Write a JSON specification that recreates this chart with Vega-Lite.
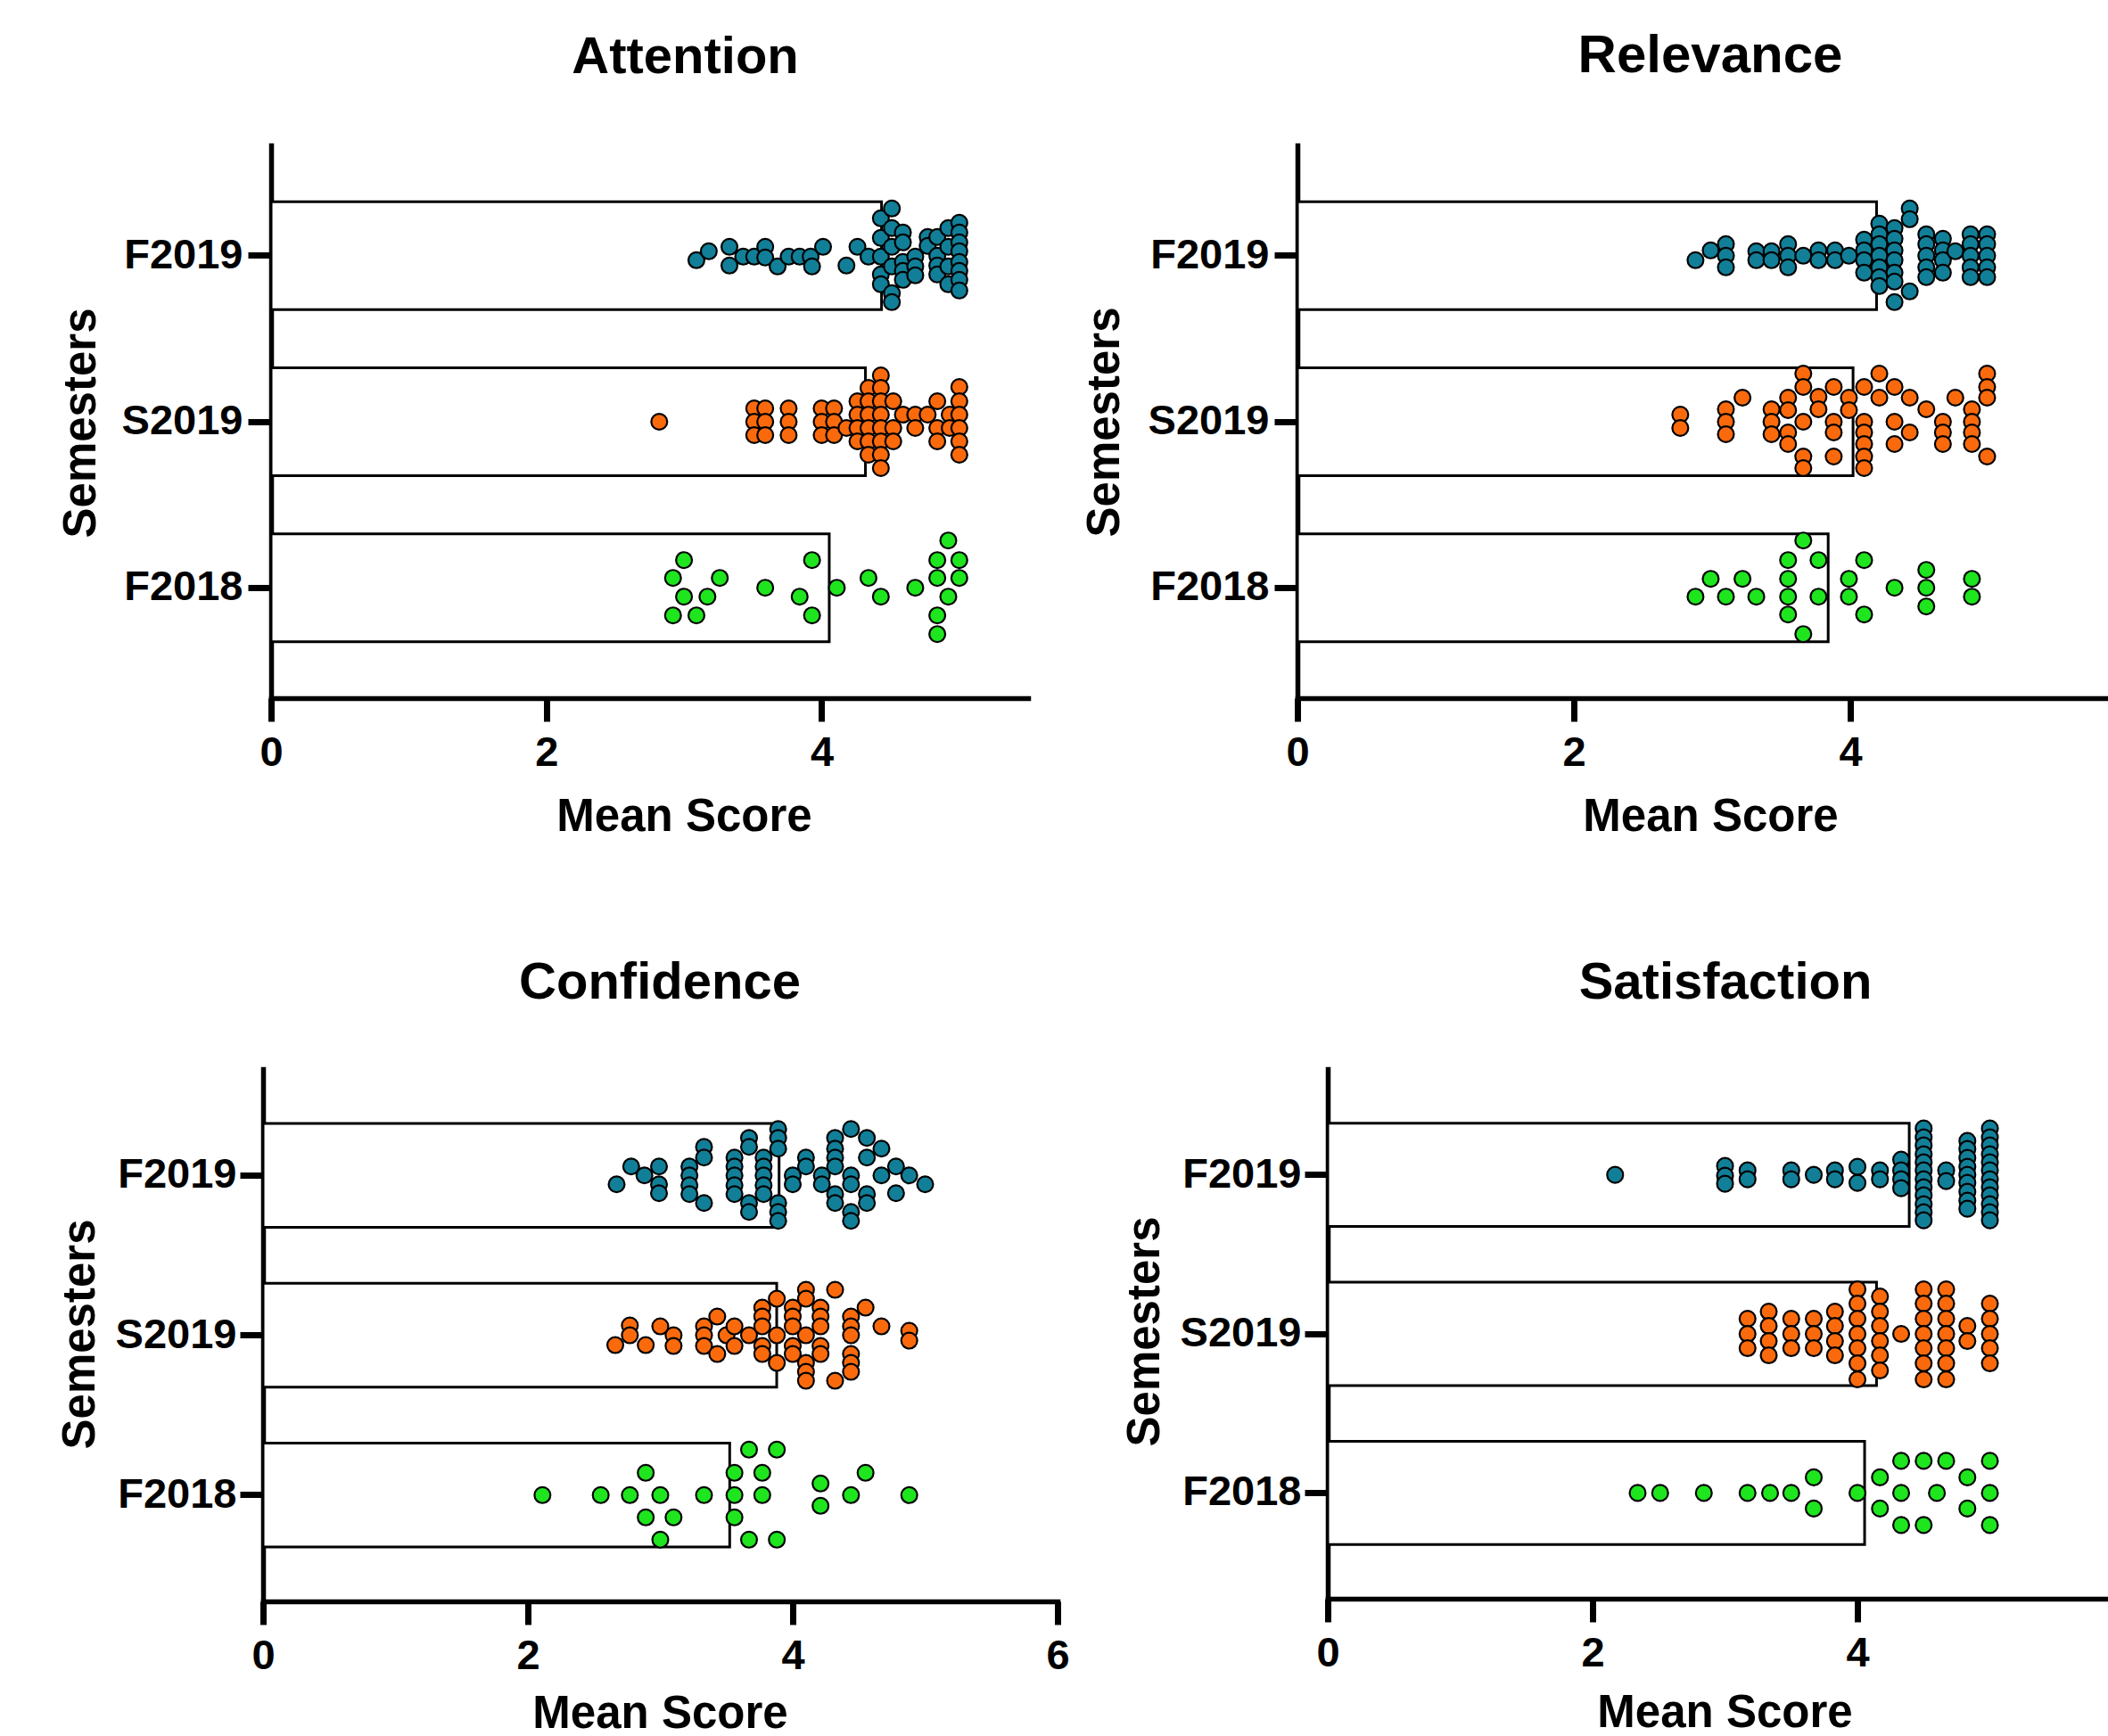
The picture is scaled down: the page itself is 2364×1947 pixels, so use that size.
{
"$schema": "https://vega.github.io/schema/vega-lite/v6.json",
"padding": {"left": 64, "top": 33, "right": 0, "bottom": 0},
"spacing": 133,
"resolve": {"scale": {"yOffset": "independent", "x": "independent", "y": "independent"}},
"datasets": {
"bars": [
{"panel":"Attention","semester":"F2019","mean":4.435},{"panel":"Attention","semester":"S2019","mean":4.318},{"panel":"Attention","semester":"F2018","mean":4.055},
{"panel":"Relevance","semester":"F2019","mean":4.19},{"panel":"Relevance","semester":"S2019","mean":4.02},{"panel":"Relevance","semester":"F2018","mean":3.84},
{"panel":"Confidence","semester":"F2019","mean":3.897},{"panel":"Confidence","semester":"S2019","mean":3.879},{"panel":"Confidence","semester":"F2018","mean":3.524},
{"panel":"Satisfaction","semester":"F2019","mean":4.391},{"panel":"Satisfaction","semester":"S2019","mean":4.144},{"panel":"Satisfaction","semester":"F2018","mean":4.054}
],
"attention": [
{"semester":"F2019","score":3.09,"lane":0.5},{"semester":"F2019","score":3.18,"lane":-0.5},{"semester":"F2019","score":3.33,"lane":-1.0},{"semester":"F2019","score":3.33,"lane":1.1},{"semester":"F2019","score":3.43,"lane":0.1},{"semester":"F2019","score":3.51,"lane":0.1},{"semester":"F2019","score":3.59,"lane":-1.0},{"semester":"F2019","score":3.59,"lane":0.2},{"semester":"F2019","score":3.68,"lane":1.2},{"semester":"F2019","score":3.76,"lane":0.1},{"semester":"F2019","score":3.84,"lane":0.1},{"semester":"F2019","score":3.92,"lane":0.1},{"semester":"F2019","score":3.93,"lane":1.2},{"semester":"F2019","score":4.01,"lane":-1.0},{"semester":"F2019","score":4.18,"lane":1.1},{"semester":"F2019","score":4.26,"lane":-1.0},{"semester":"F2019","score":4.34,"lane":0.1},
{"semester":"F2019","score":4.43,"lane":-4.2},{"semester":"F2019","score":4.43,"lane":-2.0},{"semester":"F2019","score":4.43,"lane":0.1},{"semester":"F2019","score":4.43,"lane":2.1},{"semester":"F2019","score":4.43,"lane":3.2},
{"semester":"F2019","score":4.51,"lane":-5.3},{"semester":"F2019","score":4.51,"lane":-3.1},{"semester":"F2019","score":4.51,"lane":-1.0},{"semester":"F2019","score":4.51,"lane":1.2},{"semester":"F2019","score":4.51,"lane":4.2},{"semester":"F2019","score":4.51,"lane":5.2},
{"semester":"F2019","score":4.59,"lane":-2.6},{"semester":"F2019","score":4.59,"lane":-1.5},{"semester":"F2019","score":4.59,"lane":0.7},{"semester":"F2019","score":4.59,"lane":1.7},{"semester":"F2019","score":4.59,"lane":2.7},
{"semester":"F2019","score":4.68,"lane":0.1},{"semester":"F2019","score":4.68,"lane":1.2},{"semester":"F2019","score":4.68,"lane":2.2},
{"semester":"F2019","score":4.77,"lane":-2.1},{"semester":"F2019","score":4.77,"lane":-1.1},
{"semester":"F2019","score":4.84,"lane":-2.1},{"semester":"F2019","score":4.84,"lane":0.0},{"semester":"F2019","score":4.84,"lane":1.1},{"semester":"F2019","score":4.84,"lane":2.1},
{"semester":"F2019","score":4.92,"lane":-3.1},{"semester":"F2019","score":4.92,"lane":-1.0},{"semester":"F2019","score":4.92,"lane":1.2},{"semester":"F2019","score":4.92,"lane":3.2},
{"semester":"F2019","score":5.0,"lane":-3.7},{"semester":"F2019","score":5.0,"lane":-2.6},{"semester":"F2019","score":5.0,"lane":-1.5},{"semester":"F2019","score":5.0,"lane":-0.5},{"semester":"F2019","score":5.0,"lane":0.7},{"semester":"F2019","score":5.0,"lane":1.7},{"semester":"F2019","score":5.0,"lane":2.7},{"semester":"F2019","score":5.0,"lane":3.9},
{"semester":"S2019","score":2.82,"lane":0},
{"semester":"S2019","score":3.51,"lane":-1.5},{"semester":"S2019","score":3.51,"lane":0},{"semester":"S2019","score":3.51,"lane":1.5},
{"semester":"S2019","score":3.59,"lane":-1.5},{"semester":"S2019","score":3.59,"lane":0},{"semester":"S2019","score":3.59,"lane":1.5},
{"semester":"S2019","score":3.76,"lane":-1.5},{"semester":"S2019","score":3.76,"lane":0},{"semester":"S2019","score":3.76,"lane":1.5},
{"semester":"S2019","score":4.0,"lane":-1.5},{"semester":"S2019","score":4.0,"lane":0},{"semester":"S2019","score":4.0,"lane":1.5},
{"semester":"S2019","score":4.09,"lane":-1.5},{"semester":"S2019","score":4.09,"lane":0},{"semester":"S2019","score":4.09,"lane":1.5},
{"semester":"S2019","score":4.18,"lane":0.7},
{"semester":"S2019","score":4.26,"lane":-2.3},{"semester":"S2019","score":4.26,"lane":-0.8},{"semester":"S2019","score":4.26,"lane":0.7},{"semester":"S2019","score":4.26,"lane":2.2},
{"semester":"S2019","score":4.34,"lane":-3.8},{"semester":"S2019","score":4.34,"lane":-2.3},{"semester":"S2019","score":4.34,"lane":-0.8},{"semester":"S2019","score":4.34,"lane":0.7},{"semester":"S2019","score":4.34,"lane":2.2},{"semester":"S2019","score":4.34,"lane":3.7},
{"semester":"S2019","score":4.43,"lane":-5.2},{"semester":"S2019","score":4.43,"lane":-3.8},{"semester":"S2019","score":4.43,"lane":-2.3},{"semester":"S2019","score":4.43,"lane":-0.8},{"semester":"S2019","score":4.43,"lane":0.7},{"semester":"S2019","score":4.43,"lane":2.2},{"semester":"S2019","score":4.43,"lane":3.7},{"semester":"S2019","score":4.43,"lane":5.2},
{"semester":"S2019","score":4.52,"lane":-2.3},{"semester":"S2019","score":4.52,"lane":0.7},{"semester":"S2019","score":4.52,"lane":2.2},
{"semester":"S2019","score":4.59,"lane":-0.8},
{"semester":"S2019","score":4.68,"lane":-0.8},{"semester":"S2019","score":4.68,"lane":0.7},
{"semester":"S2019","score":4.77,"lane":-0.8},
{"semester":"S2019","score":4.84,"lane":-2.3},{"semester":"S2019","score":4.84,"lane":0.7},{"semester":"S2019","score":4.84,"lane":2.2},
{"semester":"S2019","score":4.93,"lane":-0.8},{"semester":"S2019","score":4.93,"lane":0.7},
{"semester":"S2019","score":5.0,"lane":-3.9},{"semester":"S2019","score":5.0,"lane":-2.3},{"semester":"S2019","score":5.0,"lane":-0.8},{"semester":"S2019","score":5.0,"lane":0.7},{"semester":"S2019","score":5.0,"lane":2.2},{"semester":"S2019","score":5.0,"lane":3.7},
{"semester":"F2018","score":3.0,"lane":-3.1},{"semester":"F2018","score":2.92,"lane":-1.1},{"semester":"F2018","score":3.26,"lane":-1.1},{"semester":"F2018","score":3.0,"lane":1.0},{"semester":"F2018","score":3.17,"lane":1.0},{"semester":"F2018","score":2.92,"lane":3.1},{"semester":"F2018","score":3.09,"lane":3.1},{"semester":"F2018","score":3.59,"lane":0},{"semester":"F2018","score":3.93,"lane":-3.1},{"semester":"F2018","score":3.84,"lane":1.0},{"semester":"F2018","score":3.93,"lane":3.1},{"semester":"F2018","score":4.11,"lane":0},{"semester":"F2018","score":4.34,"lane":-1.1},{"semester":"F2018","score":4.43,"lane":1.0},{"semester":"F2018","score":4.68,"lane":0},{"semester":"F2018","score":4.92,"lane":-5.3},{"semester":"F2018","score":4.84,"lane":-3.1},{"semester":"F2018","score":5.0,"lane":-3.1},{"semester":"F2018","score":4.84,"lane":-1.1},{"semester":"F2018","score":5.0,"lane":-1.1},{"semester":"F2018","score":4.92,"lane":1.0},{"semester":"F2018","score":4.84,"lane":3.1},{"semester":"F2018","score":4.84,"lane":5.2}
],
"relevance": [
{"semester":"F2019","score":2.88,"lane":0.5},{"semester":"F2019","score":2.99,"lane":-0.6},{"semester":"F2019","score":3.1,"lane":-1.3},{"semester":"F2019","score":3.1,"lane":0.0},{"semester":"F2019","score":3.1,"lane":1.3},{"semester":"F2019","score":3.32,"lane":-0.5},{"semester":"F2019","score":3.32,"lane":0.5},{"semester":"F2019","score":3.43,"lane":-0.5},{"semester":"F2019","score":3.43,"lane":0.5},{"semester":"F2019","score":3.55,"lane":-1.3},{"semester":"F2019","score":3.55,"lane":0.0},{"semester":"F2019","score":3.55,"lane":1.3},{"semester":"F2019","score":3.66,"lane":0.0},{"semester":"F2019","score":3.77,"lane":-0.6},{"semester":"F2019","score":3.77,"lane":0.5},{"semester":"F2019","score":3.89,"lane":-0.6},{"semester":"F2019","score":3.89,"lane":0.5},{"semester":"F2019","score":3.99,"lane":0.0},
{"semester":"F2019","score":4.1,"lane":-1.8},{"semester":"F2019","score":4.1,"lane":-0.6},{"semester":"F2019","score":4.1,"lane":0.5},{"semester":"F2019","score":4.1,"lane":1.9},
{"semester":"F2019","score":4.21,"lane":-3.6},{"semester":"F2019","score":4.21,"lane":-2.4},{"semester":"F2019","score":4.21,"lane":-1.3},{"semester":"F2019","score":4.21,"lane":0.0},{"semester":"F2019","score":4.21,"lane":1.3},{"semester":"F2019","score":4.21,"lane":2.4},{"semester":"F2019","score":4.21,"lane":3.4},
{"semester":"F2019","score":4.32,"lane":-3.1},{"semester":"F2019","score":4.32,"lane":-1.9},{"semester":"F2019","score":4.32,"lane":-0.6},{"semester":"F2019","score":4.32,"lane":0.5},{"semester":"F2019","score":4.32,"lane":1.9},{"semester":"F2019","score":4.32,"lane":2.9},{"semester":"F2019","score":4.32,"lane":5.2},
{"semester":"F2019","score":4.43,"lane":-5.3},{"semester":"F2019","score":4.43,"lane":-4.1},{"semester":"F2019","score":4.43,"lane":4.0},
{"semester":"F2019","score":4.55,"lane":-2.4},{"semester":"F2019","score":4.55,"lane":-1.3},{"semester":"F2019","score":4.55,"lane":0.0},{"semester":"F2019","score":4.55,"lane":1.3},{"semester":"F2019","score":4.55,"lane":2.4},
{"semester":"F2019","score":4.67,"lane":-1.9},{"semester":"F2019","score":4.67,"lane":-0.6},{"semester":"F2019","score":4.67,"lane":0.5},{"semester":"F2019","score":4.67,"lane":1.9},
{"semester":"F2019","score":4.76,"lane":-0.5},
{"semester":"F2019","score":4.87,"lane":-2.4},{"semester":"F2019","score":4.87,"lane":-1.3},{"semester":"F2019","score":4.87,"lane":0.0},{"semester":"F2019","score":4.87,"lane":1.3},{"semester":"F2019","score":4.87,"lane":2.4},
{"semester":"F2019","score":4.99,"lane":-2.4},{"semester":"F2019","score":4.99,"lane":-1.3},{"semester":"F2019","score":4.99,"lane":0.0},{"semester":"F2019","score":4.99,"lane":1.3},{"semester":"F2019","score":4.99,"lane":2.4},
{"semester":"S2019","score":2.77,"lane":-0.8},{"semester":"S2019","score":2.77,"lane":0.7},{"semester":"S2019","score":3.1,"lane":-1.4},{"semester":"S2019","score":3.1,"lane":0},{"semester":"S2019","score":3.1,"lane":1.4},{"semester":"S2019","score":3.22,"lane":-2.7},{"semester":"S2019","score":3.43,"lane":-1.4},{"semester":"S2019","score":3.43,"lane":0},{"semester":"S2019","score":3.43,"lane":1.4},
{"semester":"S2019","score":3.55,"lane":-2.7},{"semester":"S2019","score":3.55,"lane":-1.3},{"semester":"S2019","score":3.55,"lane":1.2},{"semester":"S2019","score":3.55,"lane":2.5},
{"semester":"S2019","score":3.66,"lane":-5.4},{"semester":"S2019","score":3.66,"lane":-3.9},{"semester":"S2019","score":3.66,"lane":0},{"semester":"S2019","score":3.66,"lane":3.9},{"semester":"S2019","score":3.66,"lane":5.2},
{"semester":"S2019","score":3.77,"lane":-2.8},{"semester":"S2019","score":3.77,"lane":-1.4},
{"semester":"S2019","score":3.88,"lane":-3.9},{"semester":"S2019","score":3.88,"lane":0},{"semester":"S2019","score":3.88,"lane":1.2},{"semester":"S2019","score":3.88,"lane":3.9},
{"semester":"S2019","score":3.99,"lane":-2.7},{"semester":"S2019","score":3.99,"lane":-1.3},
{"semester":"S2019","score":4.1,"lane":-3.9},{"semester":"S2019","score":4.1,"lane":0},{"semester":"S2019","score":4.1,"lane":1.2},{"semester":"S2019","score":4.1,"lane":2.5},{"semester":"S2019","score":4.1,"lane":3.9},{"semester":"S2019","score":4.1,"lane":5.2},
{"semester":"S2019","score":4.21,"lane":-5.4},{"semester":"S2019","score":4.21,"lane":-2.7},
{"semester":"S2019","score":4.32,"lane":-3.9},{"semester":"S2019","score":4.32,"lane":0},{"semester":"S2019","score":4.32,"lane":2.5},
{"semester":"S2019","score":4.43,"lane":-2.7},{"semester":"S2019","score":4.43,"lane":1.2},
{"semester":"S2019","score":4.55,"lane":-1.4},
{"semester":"S2019","score":4.67,"lane":0},{"semester":"S2019","score":4.67,"lane":1.2},{"semester":"S2019","score":4.67,"lane":2.5},
{"semester":"S2019","score":4.76,"lane":-2.7},
{"semester":"S2019","score":4.88,"lane":-1.4},{"semester":"S2019","score":4.88,"lane":0},{"semester":"S2019","score":4.88,"lane":1.2},{"semester":"S2019","score":4.88,"lane":2.5},
{"semester":"S2019","score":4.99,"lane":-5.4},{"semester":"S2019","score":4.99,"lane":-3.9},{"semester":"S2019","score":4.99,"lane":-2.7},{"semester":"S2019","score":4.99,"lane":3.9},
{"semester":"F2018","score":2.88,"lane":1.0},{"semester":"F2018","score":2.99,"lane":-1.0},{"semester":"F2018","score":3.1,"lane":1.0},{"semester":"F2018","score":3.22,"lane":-1.0},{"semester":"F2018","score":3.32,"lane":1.0},
{"semester":"F2018","score":3.55,"lane":-3.1},{"semester":"F2018","score":3.55,"lane":-1.0},{"semester":"F2018","score":3.55,"lane":1.0},{"semester":"F2018","score":3.55,"lane":3.0},
{"semester":"F2018","score":3.66,"lane":-5.3},{"semester":"F2018","score":3.66,"lane":5.2},{"semester":"F2018","score":3.77,"lane":-3.1},{"semester":"F2018","score":3.77,"lane":1.0},{"semester":"F2018","score":3.99,"lane":-1.0},{"semester":"F2018","score":3.99,"lane":1.0},{"semester":"F2018","score":4.1,"lane":-3.1},{"semester":"F2018","score":4.1,"lane":3.0},{"semester":"F2018","score":4.32,"lane":0},
{"semester":"F2018","score":4.55,"lane":-2.0},{"semester":"F2018","score":4.55,"lane":0},{"semester":"F2018","score":4.55,"lane":2.1},{"semester":"F2018","score":4.88,"lane":-1.0},{"semester":"F2018","score":4.88,"lane":1.0}
],
"confidence": [
{"semester":"F2019","score":2.67,"lane":1.0},{"semester":"F2019","score":2.78,"lane":-1.0},{"semester":"F2019","score":2.88,"lane":0},{"semester":"F2019","score":2.99,"lane":-1.0},{"semester":"F2019","score":2.99,"lane":1.0},{"semester":"F2019","score":2.99,"lane":2.0},
{"semester":"F2019","score":3.22,"lane":-1.0},{"semester":"F2019","score":3.22,"lane":0},{"semester":"F2019","score":3.22,"lane":1.1},{"semester":"F2019","score":3.22,"lane":2.1},
{"semester":"F2019","score":3.33,"lane":-3.2},{"semester":"F2019","score":3.33,"lane":-2.0},{"semester":"F2019","score":3.33,"lane":3.1},
{"semester":"F2019","score":3.56,"lane":-2.0},{"semester":"F2019","score":3.56,"lane":-1.0},{"semester":"F2019","score":3.56,"lane":0},{"semester":"F2019","score":3.56,"lane":1.1},{"semester":"F2019","score":3.56,"lane":2.1},
{"semester":"F2019","score":3.67,"lane":-4.2},{"semester":"F2019","score":3.67,"lane":-3.2},{"semester":"F2019","score":3.67,"lane":3.1},{"semester":"F2019","score":3.67,"lane":4.1},
{"semester":"F2019","score":3.78,"lane":-2.0},{"semester":"F2019","score":3.78,"lane":-1.0},{"semester":"F2019","score":3.78,"lane":0},{"semester":"F2019","score":3.78,"lane":1.1},{"semester":"F2019","score":3.78,"lane":2.1},
{"semester":"F2019","score":3.89,"lane":-5.2},{"semester":"F2019","score":3.89,"lane":-4.2},{"semester":"F2019","score":3.89,"lane":-3.0},{"semester":"F2019","score":3.89,"lane":3.1},{"semester":"F2019","score":3.89,"lane":4.1},{"semester":"F2019","score":3.89,"lane":5.1},
{"semester":"F2019","score":4.0,"lane":0},{"semester":"F2019","score":4.0,"lane":1.0},{"semester":"F2019","score":4.1,"lane":-2.0},{"semester":"F2019","score":4.1,"lane":-1.0},{"semester":"F2019","score":4.22,"lane":0},{"semester":"F2019","score":4.22,"lane":1.0},
{"semester":"F2019","score":4.32,"lane":-4.2},{"semester":"F2019","score":4.32,"lane":-3.0},{"semester":"F2019","score":4.32,"lane":-2.0},{"semester":"F2019","score":4.32,"lane":-1.0},{"semester":"F2019","score":4.32,"lane":2.1},{"semester":"F2019","score":4.32,"lane":3.1},
{"semester":"F2019","score":4.44,"lane":-5.2},{"semester":"F2019","score":4.44,"lane":0},{"semester":"F2019","score":4.44,"lane":1.0},{"semester":"F2019","score":4.44,"lane":4.1},{"semester":"F2019","score":4.44,"lane":5.1},
{"semester":"F2019","score":4.56,"lane":-4.2},{"semester":"F2019","score":4.56,"lane":-2.0},{"semester":"F2019","score":4.56,"lane":2.1},{"semester":"F2019","score":4.56,"lane":3.1},
{"semester":"F2019","score":4.67,"lane":-3.0},{"semester":"F2019","score":4.67,"lane":0},{"semester":"F2019","score":4.78,"lane":-1.0},{"semester":"F2019","score":4.78,"lane":2.0},{"semester":"F2019","score":4.88,"lane":0},{"semester":"F2019","score":5.0,"lane":1.0},
{"semester":"S2019","score":2.66,"lane":1.1},{"semester":"S2019","score":2.77,"lane":-1.1},{"semester":"S2019","score":2.77,"lane":0},{"semester":"S2019","score":2.89,"lane":1.1},{"semester":"S2019","score":3.0,"lane":-1.0},{"semester":"S2019","score":3.1,"lane":0},{"semester":"S2019","score":3.1,"lane":1.2},
{"semester":"S2019","score":3.33,"lane":-1.0},{"semester":"S2019","score":3.33,"lane":0},{"semester":"S2019","score":3.33,"lane":1.2},{"semester":"S2019","score":3.43,"lane":-2.1},{"semester":"S2019","score":3.43,"lane":2.1},{"semester":"S2019","score":3.5,"lane":0},{"semester":"S2019","score":3.56,"lane":-1.0},{"semester":"S2019","score":3.56,"lane":1.2},{"semester":"S2019","score":3.67,"lane":0},
{"semester":"S2019","score":3.77,"lane":-3.1},{"semester":"S2019","score":3.77,"lane":-2.1},{"semester":"S2019","score":3.77,"lane":-1.0},{"semester":"S2019","score":3.77,"lane":1.2},{"semester":"S2019","score":3.77,"lane":2.1},
{"semester":"S2019","score":3.88,"lane":-4.1},{"semester":"S2019","score":3.88,"lane":0},{"semester":"S2019","score":3.88,"lane":3.1},
{"semester":"S2019","score":4.0,"lane":-3.1},{"semester":"S2019","score":4.0,"lane":-2.1},{"semester":"S2019","score":4.0,"lane":-1.0},{"semester":"S2019","score":4.0,"lane":1.2},{"semester":"S2019","score":4.0,"lane":2.1},
{"semester":"S2019","score":4.1,"lane":-5.1},{"semester":"S2019","score":4.1,"lane":-4.1},{"semester":"S2019","score":4.1,"lane":0},{"semester":"S2019","score":4.1,"lane":3.1},{"semester":"S2019","score":4.1,"lane":4.1},{"semester":"S2019","score":4.1,"lane":5.1},
{"semester":"S2019","score":4.21,"lane":-3.1},{"semester":"S2019","score":4.21,"lane":-2.1},{"semester":"S2019","score":4.21,"lane":-1.0},{"semester":"S2019","score":4.21,"lane":1.2},{"semester":"S2019","score":4.21,"lane":2.1},
{"semester":"S2019","score":4.32,"lane":-5.1},{"semester":"S2019","score":4.32,"lane":5.1},
{"semester":"S2019","score":4.44,"lane":-2.1},{"semester":"S2019","score":4.44,"lane":-1.0},{"semester":"S2019","score":4.44,"lane":0},{"semester":"S2019","score":4.44,"lane":2.1},{"semester":"S2019","score":4.44,"lane":3.1},{"semester":"S2019","score":4.44,"lane":4.1},
{"semester":"S2019","score":4.55,"lane":-3.1},{"semester":"S2019","score":4.67,"lane":-1.0},{"semester":"S2019","score":4.88,"lane":-0.5},{"semester":"S2019","score":4.88,"lane":0.6},
{"semester":"F2018","score":2.11,"lane":0},{"semester":"F2018","score":2.55,"lane":0},{"semester":"F2018","score":2.77,"lane":0},{"semester":"F2018","score":2.89,"lane":-2.5},{"semester":"F2018","score":2.89,"lane":2.5},{"semester":"F2018","score":3.0,"lane":0},{"semester":"F2018","score":3.0,"lane":5.0},{"semester":"F2018","score":3.1,"lane":2.5},{"semester":"F2018","score":3.33,"lane":0},
{"semester":"F2018","score":3.56,"lane":-2.5},{"semester":"F2018","score":3.56,"lane":0},{"semester":"F2018","score":3.56,"lane":2.5},{"semester":"F2018","score":3.67,"lane":-5.1},{"semester":"F2018","score":3.67,"lane":5.0},{"semester":"F2018","score":3.77,"lane":-2.5},{"semester":"F2018","score":3.77,"lane":0},{"semester":"F2018","score":3.88,"lane":-5.1},{"semester":"F2018","score":3.88,"lane":5.0},
{"semester":"F2018","score":4.21,"lane":-1.3},{"semester":"F2018","score":4.21,"lane":1.2},{"semester":"F2018","score":4.44,"lane":0},{"semester":"F2018","score":4.55,"lane":-2.5},{"semester":"F2018","score":4.88,"lane":0}
],
"satisfaction": [
{"semester":"F2019","score":2.17,"lane":0},{"semester":"F2019","score":3.0,"lane":-1.0},{"semester":"F2019","score":3.0,"lane":0.1},{"semester":"F2019","score":3.0,"lane":1.0},{"semester":"F2019","score":3.17,"lane":-0.5},{"semester":"F2019","score":3.17,"lane":0.5},{"semester":"F2019","score":3.5,"lane":-0.5},{"semester":"F2019","score":3.5,"lane":0.5},{"semester":"F2019","score":3.67,"lane":0},{"semester":"F2019","score":3.83,"lane":-0.5},{"semester":"F2019","score":3.83,"lane":0.5},{"semester":"F2019","score":4.0,"lane":-0.9},{"semester":"F2019","score":4.0,"lane":0.9},{"semester":"F2019","score":4.17,"lane":-0.5},{"semester":"F2019","score":4.17,"lane":0.5},
{"semester":"F2019","score":4.33,"lane":-1.7},{"semester":"F2019","score":4.33,"lane":-0.5},{"semester":"F2019","score":4.33,"lane":0.5},{"semester":"F2019","score":4.33,"lane":1.5},
{"semester":"F2019","score":4.5,"lane":-5.2},{"semester":"F2019","score":4.5,"lane":-4.2},{"semester":"F2019","score":4.5,"lane":-3.3},{"semester":"F2019","score":4.5,"lane":-2.3},{"semester":"F2019","score":4.5,"lane":-1.4},{"semester":"F2019","score":4.5,"lane":-0.5},{"semester":"F2019","score":4.5,"lane":0.5},{"semester":"F2019","score":4.5,"lane":1.4},{"semester":"F2019","score":4.5,"lane":2.3},{"semester":"F2019","score":4.5,"lane":3.3},{"semester":"F2019","score":4.5,"lane":4.2},{"semester":"F2019","score":4.5,"lane":5.1},
{"semester":"F2019","score":4.67,"lane":-0.5},{"semester":"F2019","score":4.67,"lane":0.7},
{"semester":"F2019","score":4.83,"lane":-3.8},{"semester":"F2019","score":4.83,"lane":-2.9},{"semester":"F2019","score":4.83,"lane":-1.9},{"semester":"F2019","score":4.83,"lane":-0.9},{"semester":"F2019","score":4.83,"lane":0},{"semester":"F2019","score":4.83,"lane":0.9},{"semester":"F2019","score":4.83,"lane":1.9},{"semester":"F2019","score":4.83,"lane":2.9},{"semester":"F2019","score":4.83,"lane":3.8},
{"semester":"F2019","score":5.0,"lane":-5.2},{"semester":"F2019","score":5.0,"lane":-4.2},{"semester":"F2019","score":5.0,"lane":-3.3},{"semester":"F2019","score":5.0,"lane":-2.3},{"semester":"F2019","score":5.0,"lane":-1.4},{"semester":"F2019","score":5.0,"lane":-0.5},{"semester":"F2019","score":5.0,"lane":0.5},{"semester":"F2019","score":5.0,"lane":1.4},{"semester":"F2019","score":5.0,"lane":2.3},{"semester":"F2019","score":5.0,"lane":3.3},{"semester":"F2019","score":5.0,"lane":4.2},{"semester":"F2019","score":5.0,"lane":5.1},
{"semester":"S2019","score":3.17,"lane":-1.7},{"semester":"S2019","score":3.17,"lane":0},{"semester":"S2019","score":3.17,"lane":1.6},
{"semester":"S2019","score":3.33,"lane":-2.5},{"semester":"S2019","score":3.33,"lane":-0.9},{"semester":"S2019","score":3.33,"lane":0.8},{"semester":"S2019","score":3.33,"lane":2.4},
{"semester":"S2019","score":3.5,"lane":-1.7},{"semester":"S2019","score":3.5,"lane":0},{"semester":"S2019","score":3.5,"lane":1.6},
{"semester":"S2019","score":3.67,"lane":-1.7},{"semester":"S2019","score":3.67,"lane":0},{"semester":"S2019","score":3.67,"lane":1.6},
{"semester":"S2019","score":3.83,"lane":-2.5},{"semester":"S2019","score":3.83,"lane":-0.9},{"semester":"S2019","score":3.83,"lane":0.8},{"semester":"S2019","score":3.83,"lane":2.4},
{"semester":"S2019","score":4.0,"lane":-5.0},{"semester":"S2019","score":4.0,"lane":-3.4},{"semester":"S2019","score":4.0,"lane":-1.7},{"semester":"S2019","score":4.0,"lane":0},{"semester":"S2019","score":4.0,"lane":1.6},{"semester":"S2019","score":4.0,"lane":3.3},{"semester":"S2019","score":4.0,"lane":5.1},
{"semester":"S2019","score":4.17,"lane":-4.2},{"semester":"S2019","score":4.17,"lane":-2.5},{"semester":"S2019","score":4.17,"lane":-0.9},{"semester":"S2019","score":4.17,"lane":0.8},{"semester":"S2019","score":4.17,"lane":2.4},{"semester":"S2019","score":4.17,"lane":4.1},
{"semester":"S2019","score":4.33,"lane":0},
{"semester":"S2019","score":4.5,"lane":-5.0},{"semester":"S2019","score":4.5,"lane":-3.4},{"semester":"S2019","score":4.5,"lane":-1.7},{"semester":"S2019","score":4.5,"lane":0},{"semester":"S2019","score":4.5,"lane":1.6},{"semester":"S2019","score":4.5,"lane":3.3},{"semester":"S2019","score":4.5,"lane":5.1},
{"semester":"S2019","score":4.67,"lane":-5.0},{"semester":"S2019","score":4.67,"lane":-3.4},{"semester":"S2019","score":4.67,"lane":-1.7},{"semester":"S2019","score":4.67,"lane":0},{"semester":"S2019","score":4.67,"lane":1.6},{"semester":"S2019","score":4.67,"lane":3.3},{"semester":"S2019","score":4.67,"lane":5.1},
{"semester":"S2019","score":4.83,"lane":-0.9},{"semester":"S2019","score":4.83,"lane":0.8},
{"semester":"S2019","score":5.0,"lane":-3.4},{"semester":"S2019","score":5.0,"lane":-1.7},{"semester":"S2019","score":5.0,"lane":0},{"semester":"S2019","score":5.0,"lane":1.6},{"semester":"S2019","score":5.0,"lane":3.3},
{"semester":"F2018","score":2.34,"lane":0},{"semester":"F2018","score":2.51,"lane":0},{"semester":"F2018","score":2.84,"lane":0},{"semester":"F2018","score":3.17,"lane":0},{"semester":"F2018","score":3.34,"lane":0},{"semester":"F2018","score":3.5,"lane":0},{"semester":"F2018","score":3.67,"lane":-1.75},{"semester":"F2018","score":3.67,"lane":1.75},{"semester":"F2018","score":4.0,"lane":0},{"semester":"F2018","score":4.17,"lane":-1.75},{"semester":"F2018","score":4.17,"lane":1.75},
{"semester":"F2018","score":4.33,"lane":-3.6},{"semester":"F2018","score":4.33,"lane":0},{"semester":"F2018","score":4.33,"lane":3.6},{"semester":"F2018","score":4.5,"lane":-3.6},{"semester":"F2018","score":4.5,"lane":3.6},{"semester":"F2018","score":4.6,"lane":0},{"semester":"F2018","score":4.67,"lane":-3.6},{"semester":"F2018","score":4.83,"lane":-1.75},{"semester":"F2018","score":4.83,"lane":1.75},{"semester":"F2018","score":5.0,"lane":-3.6},{"semester":"F2018","score":5.0,"lane":0},{"semester":"F2018","score":5.0,"lane":3.6}
]
},
"vconcat": [
{"hconcat": [
{"width": 849, "height": 620,
 "title": {"text": "Attention", "dx": 40, "offset": 69},
 "resolve": {"scale": {"yOffset": "independent"}},
 "layer": [
  {"data": {"name": "bars"}, "transform": [{"filter": "datum.panel === 'Attention'"}],
   "mark": {"type": "bar", "fill": "white", "stroke": "black", "strokeWidth": 3},
   "encoding": {
    "y": {"field": "semester", "type": "nominal", "sort": ["F2019","S2019","F2018"], "title": "Semesters", "scale": {"paddingInner": 0.35, "paddingOuter": 0.34}, "axis": {"titleX": -213, "titleY": 311, "labelPadding": 6}},
    "x": {"field": "mean", "type": "quantitative", "title": "Mean Score", "scale": {"domain": [0, 5.5], "nice": false}, "axis": {"values": [0,2,4], "format": "d", "titleX": 463, "titleY": 148}}}},
  {"data": {"name": "attention"},
   "mark": {"type": "circle", "size": 320, "stroke": "black", "strokeWidth": 2.2, "opacity": 1},
   "encoding": {
    "y": {"field": "semester", "type": "nominal", "sort": ["F2019","S2019","F2018"], "title": "Semesters"},
    "x": {"field": "score", "type": "quantitative", "title": "Mean Score"},
    "yOffset": {"field": "lane", "type": "quantitative", "scale": {"domain": [-10, 10], "range": [-39.5, 160.5]}},
    "color": {"field": "semester", "type": "nominal", "scale": {"domain": ["F2019","S2019","F2018"], "range": ["#127f98","#fa6a0c","#1ee51e"]}, "legend": null}}}
 ]},
{"width": 910, "height": 620,
 "title": {"text": "Relevance", "dx": 8, "offset": 69, "fontSize": 60},
 "resolve": {"scale": {"yOffset": "independent"}},
 "layer": [
  {"data": {"name": "bars"}, "transform": [{"filter": "datum.panel === 'Relevance'"}],
   "mark": {"type": "bar", "fill": "white", "stroke": "black", "strokeWidth": 3},
   "encoding": {
    "y": {"field": "semester", "type": "nominal", "sort": ["F2019","S2019","F2018"], "title": "Semesters", "scale": {"paddingInner": 0.35, "paddingOuter": 0.34}, "axis": {"titleX": -216, "titleY": 310, "labelPadding": 6}},
    "x": {"field": "mean", "type": "quantitative", "title": "Mean Score", "scale": {"domain": [0, 5.871], "nice": false}, "axis": {"values": [0,2,4], "format": "d", "titleX": 463, "titleY": 148}}}},
  {"data": {"name": "relevance"},
   "mark": {"type": "circle", "size": 320, "stroke": "black", "strokeWidth": 2.2, "opacity": 1},
   "encoding": {
    "y": {"field": "semester", "type": "nominal", "sort": ["F2019","S2019","F2018"], "title": "Semesters"},
    "x": {"field": "score", "type": "quantitative", "title": "Mean Score"},
    "yOffset": {"field": "lane", "type": "quantitative", "scale": {"domain": [-10, 10], "range": [-39.5, 160.5]}},
    "color": {"field": "semester", "type": "nominal", "scale": {"domain": ["F2019","S2019","F2018"], "range": ["#127f98","#fa6a0c","#1ee51e"]}, "legend": null}}}
 ]}
], "spacing": 60, "resolve": {"scale": {"yOffset": "independent", "x": "independent", "y": "independent"}}},
{"hconcat": [
{"width": 891, "height": 597,
 "title": {"text": "Confidence", "dx": -9.5, "offset": 67},
 "resolve": {"scale": {"yOffset": "independent"}},
 "layer": [
  {"data": {"name": "bars"}, "transform": [{"filter": "datum.panel === 'Confidence'"}],
   "mark": {"type": "bar", "fill": "white", "stroke": "black", "strokeWidth": 3},
   "encoding": {
    "y": {"field": "semester", "type": "nominal", "sort": ["F2019","S2019","F2018"], "title": "Semesters", "scale": {"paddingInner": 0.35, "paddingOuter": 0.34}, "axis": {"titleX": -205, "titleY": 297, "labelPadding": 4, "offset": 9}},
    "x": {"field": "mean", "type": "quantitative", "title": "Mean Score", "scale": {"domain": [0, 6], "nice": false, "range": [-9, 882]}, "axis": {"values": [0,2,4,6], "format": "d", "titleX": 436, "titleY": 141}}}},
  {"data": {"name": "confidence"},
   "mark": {"type": "circle", "size": 320, "stroke": "black", "strokeWidth": 2.2, "opacity": 1},
   "encoding": {
    "y": {"field": "semester", "type": "nominal", "sort": ["F2019","S2019","F2018"], "title": "Semesters"},
    "x": {"field": "score", "type": "quantitative", "title": "Mean Score"},
    "yOffset": {"field": "lane", "type": "quantitative", "scale": {"domain": [-10, 10], "range": [-41.7, 158.3]}},
    "color": {"field": "semester", "type": "nominal", "scale": {"domain": ["F2019","S2019","F2018"], "range": ["#127f98","#fa6a0c","#1ee51e"]}, "legend": null}}}
 ]},
{"width": 875, "height": 594,
 "title": {"text": "Satisfaction", "dx": 8.5, "offset": 67},
 "resolve": {"scale": {"yOffset": "independent"}},
 "layer": [
  {"data": {"name": "bars"}, "transform": [{"filter": "datum.panel === 'Satisfaction'"}],
   "mark": {"type": "bar", "fill": "white", "stroke": "black", "strokeWidth": 3},
   "encoding": {
    "y": {"field": "semester", "type": "nominal", "sort": ["F2019","S2019","F2018"], "title": "Semesters", "scale": {"paddingInner": 0.35, "paddingOuter": 0.34}, "axis": {"titleX": -205, "titleY": 294, "labelPadding": 4}},
    "x": {"field": "mean", "type": "quantitative", "title": "Mean Score", "scale": {"domain": [0, 5.892], "nice": false}, "axis": {"values": [0,2,4], "format": "d", "titleX": 445, "titleY": 143}}}},
  {"data": {"name": "satisfaction"},
   "mark": {"type": "circle", "size": 320, "stroke": "black", "strokeWidth": 2.2, "opacity": 1},
   "encoding": {
    "y": {"field": "semester", "type": "nominal", "sort": ["F2019","S2019","F2018"], "title": "Semesters"},
    "x": {"field": "score", "type": "quantitative", "title": "Mean Score"},
    "yOffset": {"field": "lane", "type": "quantitative", "scale": {"domain": [-10, 10], "range": [-42, 158]}},
    "color": {"field": "semester", "type": "nominal", "scale": {"domain": ["F2019","S2019","F2018"], "range": ["#127f98","#fa6a0c","#1ee51e"]}, "legend": null}}}
 ]}
], "spacing": 58, "resolve": {"scale": {"yOffset": "independent", "x": "independent", "y": "independent"}}}
],
"config": {
 "font": "Liberation Sans",
 "view": {"stroke": null},
 "axis": {"domainColor": "black", "domainWidth": 5.5, "domainCap": "square", "tickColor": "black", "tickWidth": 7, "tickSize": 26, "labelFont": "Liberation Sans", "labelFontSize": 47, "labelFontWeight": "bold", "labelColor": "black", "titleFont": "Liberation Sans", "titleFontSize": 51, "titleFontWeight": "bold", "titleColor": "black", "grid": false},
 "axisX": {"labelPadding": 12, "titleBaseline": "alphabetic", "titleAlign": "center", "labelFlush": false},
 "axisY": {"titleBaseline": "middle", "titleAlign": "center"},
 "title": {"fontSize": 58, "fontWeight": "bold", "color": "black", "font": "Liberation Sans", "baseline": "alphabetic", "anchor": "middle"}
}
}
